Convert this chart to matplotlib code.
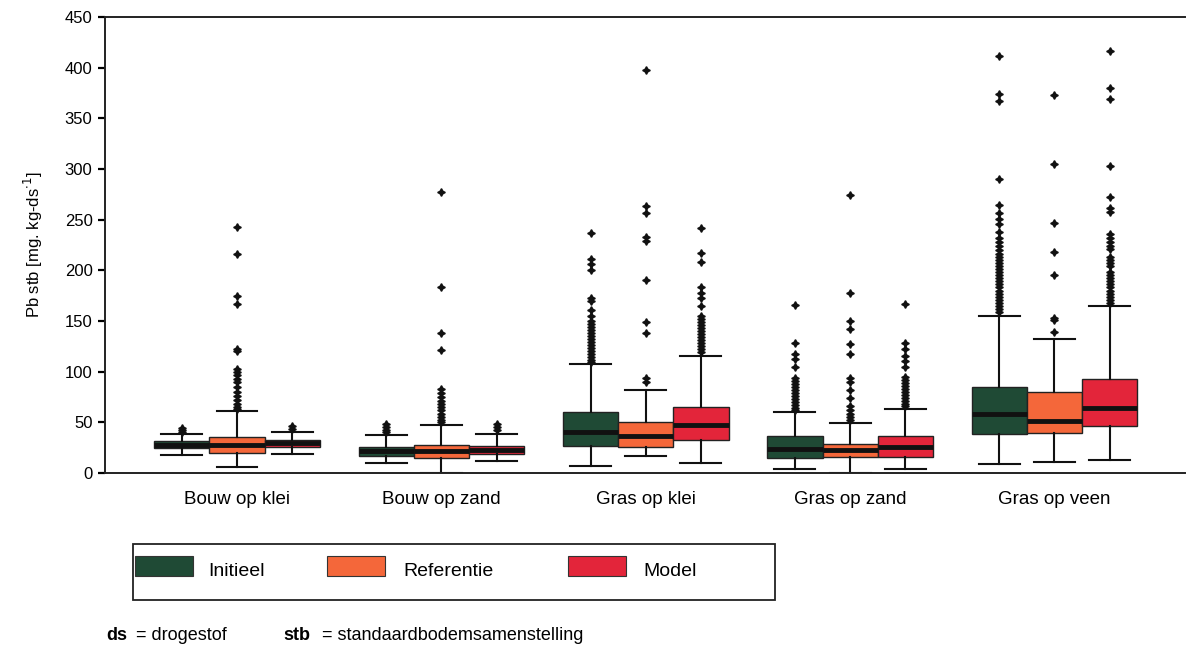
import matplotlib
matplotlib.use("Agg")
import matplotlib.pyplot as plt
from matplotlib.patches import Rectangle

plt.rcParams['font.family'] = ['Liberation Sans', 'DejaVu Sans']

groups = ["Bouw op klei", "Bouw op zand", "Gras op klei", "Gras op zand", "Gras op veen"]
series = ["Initieel", "Referentie", "Model"]
colors = ["#1f4a35", "#f4673a", "#e3253a"]

# Initieel
ini_lo = [18, 10, 7, 4, 9]
ini_q1 = [24.5, 17, 27, 14.5, 38]
ini_med = [28, 21.5, 40, 24, 58]
ini_q3 = [32, 25.5, 60, 36, 85]
ini_hi = [38, 37.5, 107, 60, 155]
ini_fl = [
    [40, 42, 44],
    [40, 42, 45, 48],
    [237, 211, 206, 200, 173, 170, 161, 155, 150, 147, 144, 141, 138, 135, 132,
     129, 126, 123, 120, 117, 114, 111, 109],
    [166, 128, 117, 112, 105, 94, 91, 88, 85, 82, 79, 76, 73, 70, 67, 64, 62],
    [411, 374, 367, 290, 264, 256, 251, 246, 238, 232, 228, 224, 220, 216, 213,
     210, 207, 204, 201, 198, 195, 192, 189, 186, 183, 180, 177, 174, 171, 168,
     165, 162, 159],
]

# Referentie
ref_lo = [5.5, 0, 17, 0, 10.5]
ref_q1 = [20, 14.5, 26, 16, 39]
ref_med = [27.5, 21.5, 36.5, 22.5, 51.5]
ref_q3 = [35, 27.5, 50, 28.5, 79.5]
ref_hi = [61, 47.5, 81.5, 49, 132]
ref_fl = [
    [243, 216, 175, 167, 122, 120, 103, 100, 97, 93, 90, 85, 80, 76, 72, 68, 65, 63],
    [277, 183, 138, 121, 83, 79, 75, 71, 68, 65, 62, 58, 55, 52, 50],
    [398, 263, 256, 233, 229, 190, 149, 138, 94, 90],
    [274, 178, 150, 142, 127, 117, 94, 90, 82, 74, 66, 62, 58, 55, 52],
    [373, 305, 247, 218, 195, 153, 151, 139],
]

# Model
mod_lo = [18.5, 12, 9.5, 4, 13]
mod_q1 = [26, 18.5, 32.5, 16, 46]
mod_med = [29.5, 22.5, 47, 26, 64.5]
mod_q3 = [33, 27, 65.5, 36, 93]
mod_hi = [40, 38, 115, 63, 165]
mod_fl = [
    [43, 46],
    [42, 45, 48],
    [242, 217, 208, 183, 178, 173, 165, 155, 152, 149, 146, 143, 140, 137, 134,
     131, 128, 125, 122, 119],
    [167, 128, 122, 115, 110, 105, 95, 92, 89, 86, 83, 80, 77, 74, 71, 68, 66],
    [416, 380, 369, 303, 272, 261, 257, 236, 232, 228, 224, 221, 213, 210, 207,
     204, 198, 195, 192, 189, 186, 183, 180, 177, 174, 171, 168],
]

all_stats = [
    (ini_lo, ini_q1, ini_med, ini_q3, ini_hi, ini_fl),
    (ref_lo, ref_q1, ref_med, ref_q3, ref_hi, ref_fl),
    (mod_lo, mod_q1, mod_med, mod_q3, mod_hi, mod_fl),
]

W, H = 1187, 647
fig = plt.figure(figsize=(W / 100, H / 100), dpi=100)
ax = fig.add_axes([0.0885, 0.269, 0.91, 0.705])

w = 0.27
for k, (lo, q1, med, q3, hi, fl) in enumerate(all_stats):
    stats = []
    for i in range(len(groups)):
        stats.append(dict(whislo=lo[i], q1=q1[i], med=med[i], q3=q3[i],
                          whishi=hi[i], fliers=fl[i]))
    pos = [i + (k - 1) * w for i in range(len(groups))]
    ax.bxp(stats, positions=pos, widths=w, patch_artist=True, capwidths=0.2,
           boxprops=dict(facecolor=colors[k], edgecolor="#222222", linewidth=1.0),
           medianprops=dict(color="#111111", linewidth=3.5),
           whiskerprops=dict(color="#111111", linewidth=1.5),
           capprops=dict(color="#111111", linewidth=1.5),
           flierprops=dict(marker=(4, 1, 0), markersize=5.5, markerfacecolor="#111111",
                           markeredgecolor="#111111", linestyle="none"),
           manage_ticks=False)

ax.set_xlim(-0.646, 4.64)
ax.set_ylim(0, 450)
ax.set_yticks(range(0, 451, 50))
ax.set_xticks(range(len(groups)))
ax.set_xticklabels(groups, fontsize=13.5)
ax.tick_params(axis="x", length=0, pad=13)
ax.tick_params(axis="y", length=5, width=1.6, labelsize=12, pad=4)
ax.spines["right"].set_visible(False)
for s in ["left", "bottom", "top"]:
    ax.spines[s].set_linewidth(1.4)
    ax.spines[s].set_color("#222222")
ax.set_ylabel(r"Pb stb [mg. kg-ds$^{\cdot 1}$]", fontsize=12, labelpad=14)

# legend box drawn in figure pixels
def fx(x):
    return x / W

def fy(y):
    return 1 - y / H

fig.patches.append(Rectangle((fx(133), fy(600)), fx(775) - fx(133), fy(544) - fy(600),
                             transform=fig.transFigure, fill=False,
                             edgecolor="#222222", linewidth=1.3))
patch_x = [135, 327, 568]
text_x = [208, 403, 643]
for k in range(len(series)):
    fig.patches.append(Rectangle((fx(patch_x[k]), fy(576)), fx(58), fy(556) - fy(576),
                                 transform=fig.transFigure, facecolor=colors[k],
                                 edgecolor="#333333", linewidth=0.8))
    fig.text(fx(text_x[k]), fy(572), series[k], fontsize=14, va="center")

fig.text(fx(106), fy(636), "ds", fontsize=13, fontweight="bold", va="center")
fig.text(fx(136), fy(636), "= drogestof", fontsize=13, va="center")
fig.text(fx(283), fy(636), "stb", fontsize=13, fontweight="bold", va="center")
fig.text(fx(322), fy(636), "= standaardbodemsamenstelling", fontsize=13, va="center")

fig.savefig("out.png", dpi=100)
